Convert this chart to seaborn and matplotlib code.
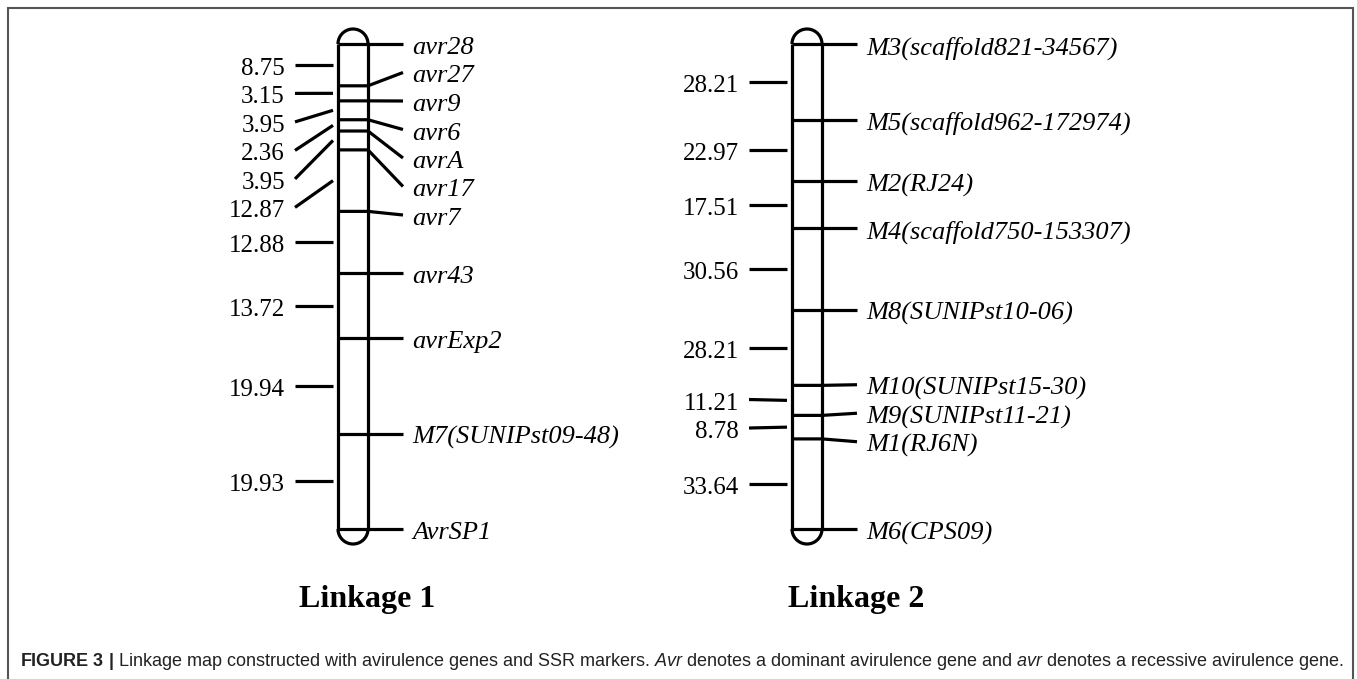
import matplotlib.pyplot as plt
import numpy as np
import pandas as pd
import seaborn as sns
from matplotlib import transforms
from matplotlib.patches import Rectangle

# marker names (top to bottom) and distances between neighbours (cM)
l1_markers = ['avr28', 'avr27', 'avr9', 'avr6', 'avrA', 'avr17', 'avr7',
              'avr43', 'avrExp2', 'M7(SUNIPst09-48)', 'AvrSP1']
l1_dist = [8.75, 3.15, 3.95, 2.36, 3.95, 12.87, 12.88, 13.72, 19.94, 19.93]

l2_markers = ['M3(scaffold821-34567)', 'M5(scaffold962-172974)', 'M2(RJ24)',
              'M4(scaffold750-153307)', 'M8(SUNIPst10-06)', 'M10(SUNIPst15-30)',
              'M9(SUNIPst11-21)', 'M1(RJ6N)', 'M6(CPS09)']
l2_dist = [28.21, 22.97, 17.51, 30.56, 28.21, 11.21, 8.78, 33.64]

titles = ['Linkage 1', 'Linkage 2']
caption = (r"$\mathbf{FIGURE\ 3\ |}$ Linkage map constructed with avirulence genes and SSR markers. "
           r"$\mathit{Avr}$ denotes a dominant avirulence gene and $\mathit{avr}$ denotes a recessive avirulence gene.")

W, H = 1357, 679
TOP, BOT = 44, 529   # pixel rows of first and last marker
GAP = 28.5           # min label spacing in pixels

sns.set_theme(style='white')
plt.rcParams['font.family'] = ['Liberation Serif', 'DejaVu Serif']
plt.rcParams['mathtext.fontset'] = 'custom'
plt.rcParams['mathtext.rm'] = 'Liberation Sans'
plt.rcParams['mathtext.it'] = 'Liberation Sans:italic'
plt.rcParams['mathtext.bf'] = 'Liberation Sans:bold'


def spread(pos, gap):
    # push overlapping labels apart, each group centred on its marks
    groups = [[p] for p in pos]
    lo = pos[0]

    def start(g):
        return max(lo, np.mean(g) - gap * (len(g) - 1) / 2)

    merged = True
    while merged:
        merged = False
        for i in range(len(groups) - 1):
            if start(groups[i + 1]) < start(groups[i]) + gap * len(groups[i]) - 1e-9:
                groups[i] = groups[i] + groups.pop(i + 1)
                merged = True
                break
    out = []
    for g in groups:
        s = start(g)
        out += [s + gap * k for k in range(len(g))]
    return out


def draw_linkage(ax, markers, dist, xl):
    total = sum(dist)
    ppc = (BOT - TOP) / total
    pos = np.concatenate([[0], np.cumsum(dist)])
    mids = (pos[:-1] + pos[1:]) / 2
    gap = GAP / ppc
    rlab = spread(list(pos), gap)
    llab = spread(list(mids), gap)
    xr = xl + 30
    xc = xl + 15

    rows = []
    rows += [('L', xl, 0), ('L', xl, total), ('R', xr, 0), ('R', xr, total)]
    t = np.linspace(0, np.pi, 60)
    for a in t:
        rows.append(('capT', xc + 15 * np.cos(a), -15 / ppc * np.sin(a)))
    for a in t:
        rows.append(('capB', xc + 15 * np.cos(a), total + 15 / ppc * np.sin(a)))
    for i, (p, lb) in enumerate(zip(pos, rlab)):
        rows += [(f'm{i}', xl, p), (f'm{i}', xr, p), (f'm{i}', xr + 35, lb)]
    for i, (m, lb) in enumerate(zip(mids, llab)):
        rows += [(f'd{i}', xl - 43, lb), (f'd{i}', xl - 5, m)]
    df = pd.DataFrame(rows, columns=['seg', 'x', 'y'])
    sns.lineplot(data=df, x='x', y='y', units='seg', estimator=None, sort=False,
                 color='black', lw=2.3, ax=ax)
    for ln in ax.lines:
        ln.set_clip_on(False)
        ln.set_solid_capstyle('butt')

    tr = transforms.offset_copy(ax.transData, fig=ax.figure, y=-4, units='dots')
    for name, lb in zip(markers, rlab):
        ax.text(xr + 44, lb, name, style='italic', fontsize=19, ha='left',
                va='center', transform=tr, color='black')
    for d, lb in zip(dist, llab):
        ax.text(xl - 53, lb, f'{d:.2f}', fontsize=18, ha='right',
                va='center', transform=tr, color='black')
    ax.set_xlim(0, W)
    ax.set_ylim(total, 0)
    ax.set_axis_off()


fig = plt.figure(figsize=(W / 100, H / 100), dpi=100)
fig.patch.set_facecolor('white')

for markers, dist, xl, title, tx in [(l1_markers, l1_dist, 338, titles[0], 367),
                                     (l2_markers, l2_dist, 792, titles[1], 856)]:
    ax = fig.add_axes([0, 1 - BOT / H, 1, (BOT - TOP) / H])
    draw_linkage(ax, markers, dist, xl)
    fig.text(tx / W, 1 - 600 / H, title, ha='center', va='center',
             fontsize=23, fontweight='bold', color='black')

# frame around the figure panel
fig.add_artist(Rectangle((8 / W, -0.1), 1345 / W, 1.1 - 8 / H, transform=fig.transFigure,
                         fill=False, edgecolor='#555555', lw=1.5))

cap = fig.text(20 / W, 1 - 661 / H, caption, ha='left', va='center', fontsize=12,
               family='Liberation Sans', color='#222222')
fig.canvas.draw()
w = cap.get_window_extent().width
cap.set_fontsize(12 * 1320 / w)

fig.savefig('out.png', dpi=100, facecolor='white')
